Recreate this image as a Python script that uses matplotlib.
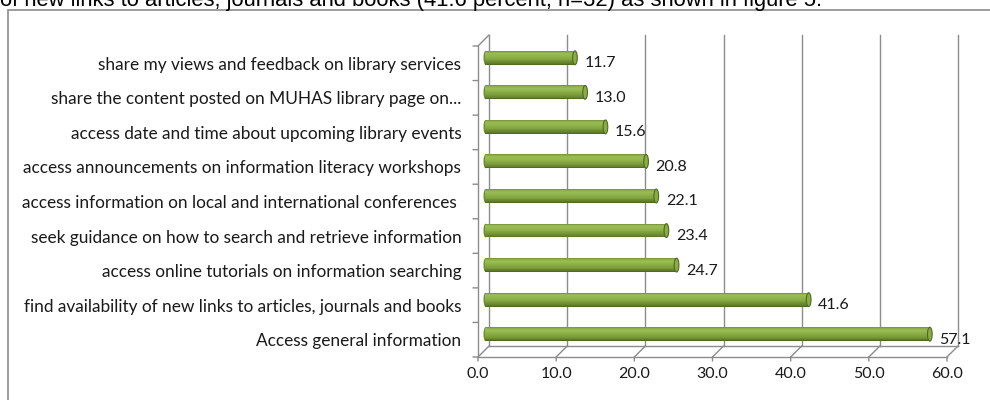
import matplotlib
matplotlib.use("Agg")
import matplotlib.pyplot as plt
import matplotlib.transforms as mtransforms
from matplotlib.patches import Ellipse, Rectangle
import numpy as np

# data, bottom to top as drawn
categories = [
    "Access general information",
    "find availability of new links to articles, journals and books",
    "access online tutorials on information searching",
    "seek guidance on how to search and retrieve information",
    "access information on local and international conferences ",
    "access announcements on information literacy workshops",
    "access date and time about upcoming library events",
    "share the content posted on MUHAS library page on...",
    "share my views and feedback on library services",
]
percent = [57.1, 41.6, 24.7, 23.4, 22.1, 20.8, 15.6, 13.0, 11.7]
xticks = [0, 10, 20, 30, 40, 50, 60]

caption = "of new links to articles, journals and books (41.6 percent, n=32) as shown in figure 5."

LBL_FONT = ["Lato", "DejaVu Sans"]
GRID = "#8c8c8c"
DPI = 100
DEPTH = 11  # px, 3d depth of the wall

fig = plt.figure(figsize=(9.9, 4.0), dpi=DPI)
ax = fig.add_axes([478 / 990, 1 - 357 / 400, (947 - 478) / 990, (357 - 46) / 400])
ax.set_xlim(0, 60)
ax.set_ylim(-0.5, len(categories) - 0.5)
for s in ax.spines.values():
    s.set_visible(False)
ax.patch.set_visible(False)

back = ax.transData + mtransforms.ScaledTranslation(DEPTH / DPI, DEPTH / DPI, fig.dpi_scale_trans)
mid = ax.transData + mtransforms.ScaledTranslation(DEPTH / 2 / DPI, DEPTH / 2 / DPI, fig.dpi_scale_trans)
y0, y1 = ax.get_ylim()

# back wall grid
for x in xticks:
    ax.plot([x, x], [y0, y1], color=GRID, lw=1.0, transform=back, clip_on=False, zorder=1)
# back floor line
ax.plot([0, 60], [y0, y0], color=GRID, lw=1.0, transform=back, clip_on=False, zorder=1)
# front floor + left wall
ax.plot([0, 60], [y0, y0], color=GRID, lw=1.0, clip_on=False, zorder=1)
ax.plot([0, 0], [y0, y1], color=GRID, lw=1.0, clip_on=False, zorder=1)
# slanted depth lines
dp = DEPTH * 72 / DPI
seg = dict(arrowstyle="-", color=GRID, lw=1.0, shrinkA=0, shrinkB=0)
for x in xticks:
    ax.annotate("", xy=(x, y0), xytext=(dp, dp), textcoords="offset points",
                arrowprops=seg, annotation_clip=False, zorder=1)
ax.annotate("", xy=(0, y1), xytext=(dp, dp), textcoords="offset points",
            arrowprops=seg, annotation_clip=False, zorder=1)
# category boundary ticks on left wall
for b in np.arange(y0, y1 + 0.01, 1.0):
    ax.annotate("", xy=(0, b), xytext=(-5 * 72 / DPI, 0), textcoords="offset points",
                arrowprops=seg, annotation_clip=False)
# x ticks below floor
for x in xticks:
    ax.annotate("", xy=(x, y0), xytext=(0, -4 * 72 / DPI), textcoords="offset points",
                arrowprops=seg, annotation_clip=False)

# cylinder bars
h = 0.4
stops = [(0.0, "#4a6420"), (0.12, "#62802c"), (0.35, "#7e9f3c"), (0.6, "#90b34a"),
         (0.8, "#9abd57"), (0.92, "#8cac48"), (1.0, "#728f36")]
ts = np.array([s[0] for s in stops])
rgb = np.array([matplotlib.colors.to_rgb(s[1]) for s in stops])
n = 16
for i, v in enumerate(percent):
    # left rounded end
    ax.add_patch(Ellipse((0.25, i), 0.5, h, transform=mid, facecolor="#6f8e33",
                         edgecolor="none", zorder=3, clip_on=False))
    for k in range(n):
        t = (k + 0.5) / n
        c = [np.interp(t, ts, rgb[:, j]) for j in range(3)]
        ax.add_patch(Rectangle((0.25, i - h / 2 + k * h / n), v - 0.25, h / n + 0.002,
                               transform=mid, facecolor=c, edgecolor="none", zorder=4,
                               clip_on=False))
    ax.add_patch(Ellipse((v, i), 0.6, h, transform=mid, facecolor="#8aac45",
                         edgecolor="#4f6a22", lw=0.8, zorder=5, clip_on=False))
    ax.annotate(f"{v:.1f}", xy=(v, i), xytext=(15 * 72 / DPI, 0), textcoords="offset points",
                ha="left", va="center", fontsize=11.5, family=LBL_FONT, color="#1a1a1a",
                annotation_clip=False, zorder=6)

ax.set_yticks(range(len(categories)))
ax.set_yticklabels(categories, family=LBL_FONT, fontsize=12.4, color="#1a1a1a")
ax.set_xticks(xticks)
ax.set_xticklabels([f"{x:.1f}" for x in xticks], family=LBL_FONT, fontsize=11.5, color="#1a1a1a")
ax.tick_params(axis="y", length=0, pad=12)
ax.tick_params(axis="x", length=0, pad=7)

# chart border and caption above
fig.patches.append(Rectangle((8 / 990, -0.1), 1.1, 1 - 10 / 400 + 0.1, transform=fig.transFigure,
                             fill=False, edgecolor="#8c8c8c", lw=1.2))
fig.text(0 / 990, 1 - 6 / 400, caption, family=["Liberation Sans", "DejaVu Sans"],
         fontsize=15.8, ha="left", va="baseline", color="black")

fig.savefig("out.png", dpi=DPI)
